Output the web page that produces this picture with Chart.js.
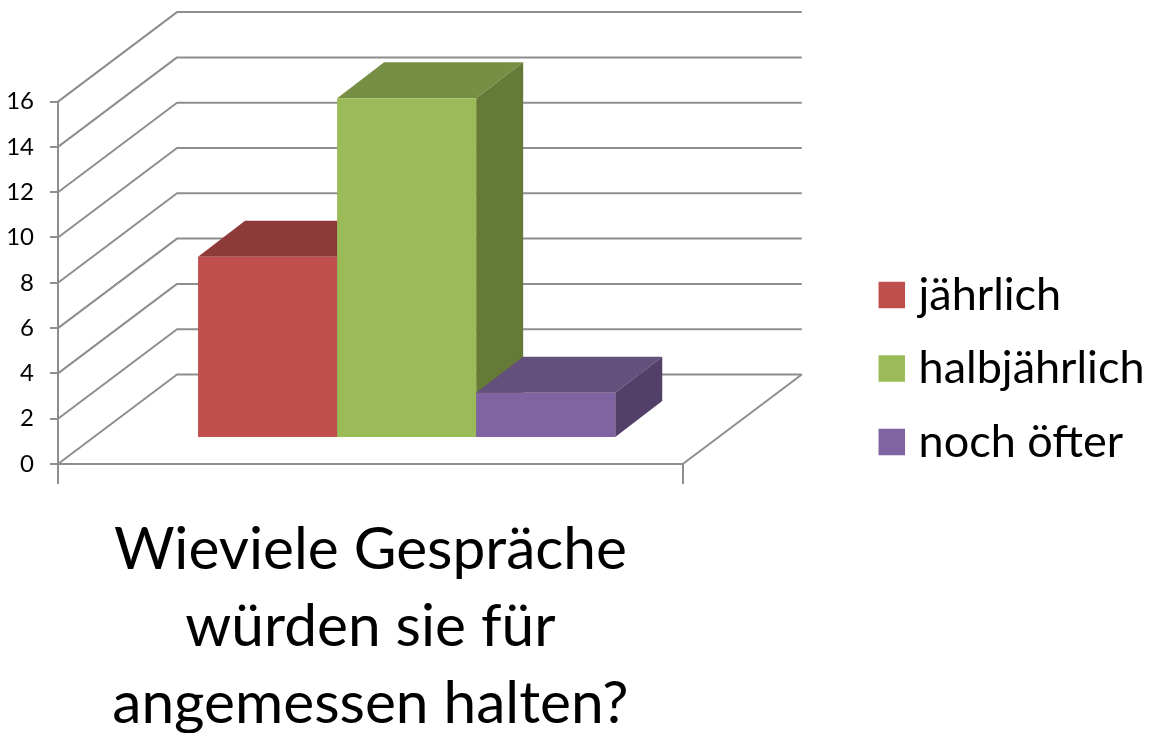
<!DOCTYPE html>
<html>
<head>
<meta charset="utf-8">
<style>html,body{margin:0;padding:0;background:#fff}#w{width:1156px;height:733px}</style>
<script src="https://cdn.jsdelivr.net/npm/chart.js@4/dist/chart.umd.min.js"></script>
</head>
<body>
<div id="w"><canvas id="c" width="1156" height="733"></canvas></div>
<script>
const categories = [["Wieviele Gespräche", "würden sie für", "angemessen halten?"]];
const seriesNames = ["jährlich", "halbjährlich", "noch öfter"];
const jaehrlich = [8];
const halbjaehrlich = [15];
const nochOefter = [2];
const frontColors = ["#C0504D", "#9BBB59", "#8064A2"];
const topColors = ["#8E3A38", "#778F44", "#63507C"];
const sideColors = ["#7C3331", "#657A37", "#534069"];

const FONT = "Lato";
const GRID = "#8E8E8E";
const WALL_DX = 119, WALL_DY = -89.5;
const BAR_DX = 36.25, BAR_DY = -26;
const BAR_DEPTH_X = 47, BAR_DEPTH_Y = -36;

function spacer(position, size) {
  return {
    position, weight: 50, fullSize: false, options: {},
    isHorizontal() { return position === "top" || position === "bottom"; },
    update(w, h) {
      if (this.isHorizontal()) { this.width = w; this.height = size; }
      else { this.width = size; this.height = h; }
    },
    draw() {}
  };
}

const depthPlugin = {
  id: "depth3d",
  beforeLayout(chart) {
    if (chart.$spacers) return;
    chart.$spacers = true;
    Chart.layouts.addBox(chart, spacer("top", 97.6));
    Chart.layouts.addBox(chart, spacer("right", 176.25));
  },
  beforeDatasetsDraw(chart) {
    const { ctx, scales: { x, y } } = chart;
    const left = x.left, right = x.right;
    ctx.save();
    ctx.strokeStyle = GRID;
    ctx.lineWidth = 2;
    ctx.lineJoin = "round";
    y.ticks.forEach(t => {
      const py = y.getPixelForValue(t.value);
      ctx.beginPath();
      ctx.moveTo(left, py);
      ctx.lineTo(left + WALL_DX, py + WALL_DY);
      ctx.lineTo(right + WALL_DX, py + WALL_DY);
      ctx.stroke();
    });
    const py0 = y.getPixelForValue(0);
    ctx.beginPath();
    ctx.moveTo(right, py0);
    ctx.lineTo(right + WALL_DX, py0 + WALL_DY);
    ctx.stroke();
    ctx.restore();
  },
  beforeDatasetDraw() { return false; },
  afterDatasetsDraw(chart) {
    const { ctx } = chart;
    chart.data.datasets.forEach((ds, i) => {
      const meta = chart.getDatasetMeta(i);
      const bar = meta.data[0];
      const l = bar.x - bar.width / 2, r = bar.x + bar.width / 2;
      const t = bar.y, b = bar.base;
      ctx.save();
      ctx.translate(BAR_DX, BAR_DY);
      ctx.fillStyle = topColors[i];
      ctx.beginPath();
      ctx.moveTo(l, t); ctx.lineTo(l + BAR_DEPTH_X, t + BAR_DEPTH_Y);
      ctx.lineTo(r + BAR_DEPTH_X, t + BAR_DEPTH_Y); ctx.lineTo(r, t);
      ctx.closePath(); ctx.fill();
      ctx.fillStyle = sideColors[i];
      ctx.beginPath();
      ctx.moveTo(r, t); ctx.lineTo(r + BAR_DEPTH_X, t + BAR_DEPTH_Y);
      ctx.lineTo(r + BAR_DEPTH_X, b + BAR_DEPTH_Y); ctx.lineTo(r, b);
      ctx.closePath(); ctx.fill();
      meta.controller.draw();
      ctx.restore();
    });
  }
};

const series = [jaehrlich, halbjaehrlich, nochOefter];
new Chart(document.getElementById("c"), {
  type: "bar",
  plugins: [depthPlugin],
  data: {
    labels: categories,
    datasets: series.map((values, i) => ({
      label: seriesNames[i],
      data: values,
      backgroundColor: frontColors[i],
      borderWidth: 0
    }))
  },
  options: {
    responsive: false,
    animation: false,
    layout: { padding: { top: 4, right: 1.5 } },
    datasets: { bar: { categoryPercentage: 0.6677, barPercentage: 1 } },
    plugins: {
      tooltip: { enabled: false },
      legend: {
        position: "right",
        maxWidth: 298.25,
        labels: {
          color: "#000",
          font: { family: FONT, size: 45 },
          boxWidth: 8.5,
          boxHeight: 8.5,
          padding: 28.5,
          generateLabels(chart) {
            return Chart.defaults.plugins.legend.labels.generateLabels(chart).map(it => ({
              ...it, lineWidth: 18, strokeStyle: it.fillStyle
            }));
          }
        }
      }
    },
    scales: {
      x: {
        afterFit(s) { s.height = 269; },
        border: { color: GRID, width: 2 },
        grid: { drawOnChartArea: false, tickLength: 20, color: GRID, lineWidth: 2 },
        ticks: {
          color: "#000", maxRotation: 0, minRotation: 0, padding: 27,
          font: { family: FONT, size: 58.6, lineHeight: 1.32 }
        }
      },
      y: {
        min: 0, max: 16,
        afterFit(s) { s.width = 58; },
        border: { color: GRID, width: 2 },
        grid: { drawOnChartArea: false, tickLength: 8, color: GRID, lineWidth: 2 },
        ticks: {
          stepSize: 2, color: "#000", padding: 16,
          font: { family: FONT, size: 24 }
        }
      }
    }
  }
});
</script>
</body>
</html>
